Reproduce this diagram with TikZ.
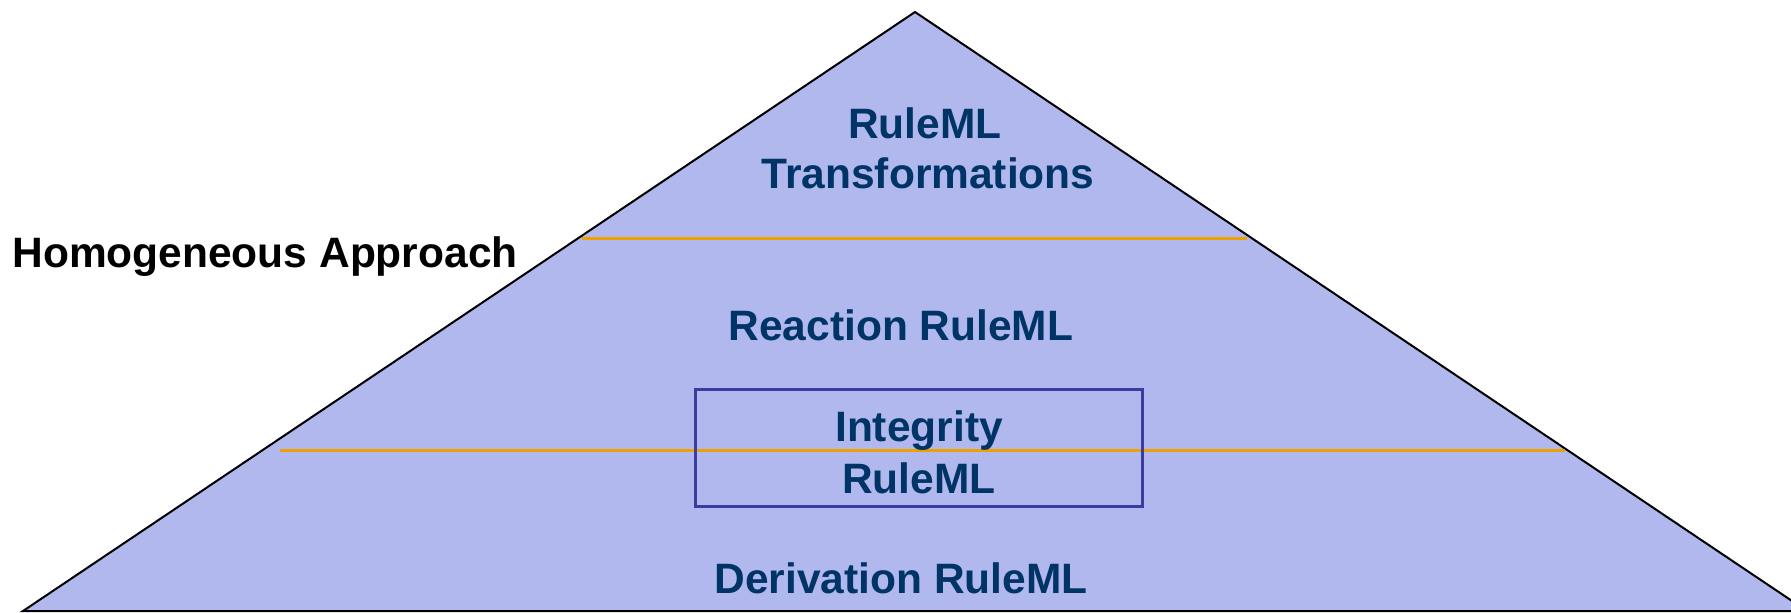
\documentclass[tikz,border=0pt]{standalone}
\usepackage{fontspec}
\setmainfont{Liberation Sans}
\definecolor{layerfill}{RGB}{176,184,237}
\definecolor{labelblue}{RGB}{0,51,102}
\definecolor{divider}{RGB}{238,160,0}
\definecolor{boxline}{RGB}{60,60,160}
\tikzset{
  layerlabel/.style={inner sep=0pt, anchor=base, text=labelblue, font=\fontsize{21.25}{25}\selectfont\bfseries},
  sidelabel/.style={inner sep=0pt, anchor=base west, text=black, font=\fontsize{21.25}{25}\selectfont\bfseries},
  dividerline/.style={draw=divider, line width=1.5pt},
}
\begin{document}
\begin{tikzpicture}[x=0.5pt, y=-0.5pt]
  \useasboundingbox (0,0) rectangle (1791,612);
  \begin{scope}
    \clip (0,0) rectangle (1791,612);
    % pyramid
    \coordinate (apex) at (915,12);
    \coordinate (bl) at (23,611);
    \coordinate (br) at (1807,611);
    \filldraw[fill=layerfill, draw=black, line width=1pt, line join=miter] (bl) -- (apex) -- (br) -- cycle;
  \end{scope}
  % layer dividers
  \coordinate (d1l) at (582,238);
  \coordinate (d1r) at (1247,238);
  \coordinate (d2l) at (280,450);
  \coordinate (d2r) at (1565,450);
  \draw[dividerline] (d1l) -- (d1r);
  \draw[dividerline] (d2l) -- (d2r);
  % integrity frame
  \node[draw=boxline, line width=1.5pt, minimum width=447*0.5pt, minimum height=117*0.5pt, inner sep=0pt] (frame) at (918.5,447.5) {};
  % labels
  \node[layerlabel] (t1) at (925,138) {RuleML};
  \node[layerlabel] (t2) at (928,188) {Transformations};
  \node[layerlabel] (react) at (901,340) {Reaction RuleML};
  \node[layerlabel] (integ1) at (919,441) {Integrity};
  \node[layerlabel] (integ2) at (919,493) {RuleML};
  \node[layerlabel] (deriv) at (901,593) {Derivation RuleML};
  \node[sidelabel] (homog) at (12,267) {Homogeneous Approach};
\end{tikzpicture}
\end{document}
